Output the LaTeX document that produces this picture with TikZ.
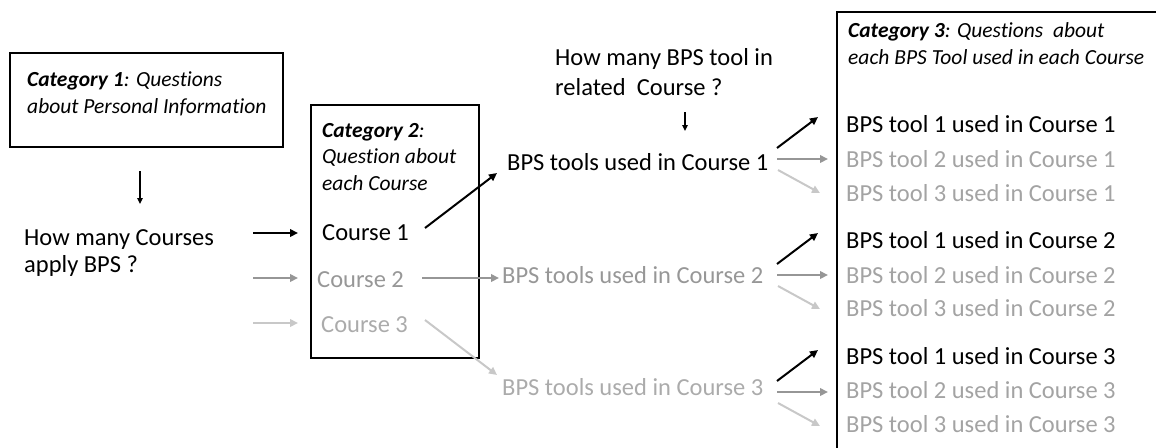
\documentclass[tikz,border=0pt]{standalone}
\usepackage{fontspec}
\setmainfont{Carlito}[Ligatures=NoCommon]
\usetikzlibrary{arrows.meta}
\definecolor{midgray}{HTML}{969696}
\definecolor{midtext}{HTML}{979797}
\definecolor{tooltext}{HTML}{A3A3A3}
\definecolor{lightgray}{HTML}{C8C8C8}
\definecolor{lighttext}{HTML}{ABABAB}
\tikzset{
  x=1pt, y=-1pt,
  big/.style={inner sep=0pt, anchor=base west, font=\fontsize{24.5}{27}\selectfont},
  cat/.style={inner sep=0pt, anchor=base west, align=left, font=\fontsize{21.5}{26.5}\selectfont\itshape},
  frame/.style={draw=black, line width=1.2pt},
  link/.style={line width=2pt, -{Triangle[length=8pt,width=7.5pt]}},
  thin link/.style={line width=1.4pt, -{Triangle[length=6pt,width=5.5pt]}},
}
\begin{document}
\begin{tikzpicture}
\useasboundingbox (0,0) rectangle (1156,447);

% frames
\draw[frame] (10,53) rectangle (283,147);
\draw[frame] (311,105) rectangle (479,358);
\draw[frame] (1160,12) -- (837,12) -- (837,450);

% category headings (anchored at the baseline of their last line)
\node[cat] (cat1) at (27,113) {\textbf{Category 1}: Questions\\about Personal Information};
\node[cat] (cat2) at (322,190) {\textbf{Category 2}:\\Question about\\each Course};
\node[cat] (cat3) at (848,64) {\textbf{Category 3}: Questions\ \ about\\each BPS Tool used in each Course};

% questions
\node[big, align=left] (q1) at (24,272) {How many Courses\\apply BPS ?};
\node[big, align=left, font=\fontsize{24.5}{30}\selectfont] (q2) at (555,95) {How many BPS tool in\\related\ \ Course ?};

% courses
\node[big] (c1) at (322,240) {Course 1};
\node[big, text=midtext] (c2) at (317,287) {Course 2};
\node[big, text=lighttext] (c3) at (321,332) {Course 3};

% tools per course
\node[big] (u1) at (507,170) {BPS tools used in Course 1};
\node[big, text=midtext] (u2) at (502,283) {BPS tools used in Course 2};
\node[big, text=lighttext] (u3) at (502,395) {BPS tools used in Course 3};

% individual tools
\node[big] (t11) at (846,132) {BPS tool 1 used in Course 1};
\node[big, text=tooltext] (t21) at (846,167) {BPS tool 2 used in Course 1};
\node[big, text=tooltext] (t31) at (846,201) {BPS tool 3 used in Course 1};
\node[big] (t12) at (846,248) {BPS tool 1 used in Course 2};
\node[big, text=tooltext] (t22) at (846,283) {BPS tool 2 used in Course 2};
\node[big, text=tooltext] (t32) at (846,316) {BPS tool 3 used in Course 2};
\node[big] (t13) at (846,364) {BPS tool 1 used in Course 3};
\node[big, text=tooltext] (t23) at (846,398) {BPS tool 2 used in Course 3};
\node[big, text=tooltext] (t33) at (846,432) {BPS tool 3 used in Course 3};

% small down arrows
\coordinate (d1s) at (140,171);
\coordinate (d1e) at (140,204);
\draw[thin link] (d1s) -- (d1e);
\coordinate (d2s) at (685,112);
\coordinate (d2e) at (685,131);
\draw[thin link] (d2s) -- (d2e);

% from the course count to the courses
\coordinate (k1s) at (253,233);
\coordinate (k1e) at (298,233);
\coordinate (k2s) at (253,278);
\coordinate (k2e) at (298,278);
\coordinate (k3s) at (253,323);
\coordinate (k3e) at (298,323);
\draw[link] (k1s) -- (k1e);
\draw[link, midgray] (k2s) -- (k2e);
\draw[link, lightgray] (k3s) -- (k3e);

% from each course to its tools
\coordinate (e1s) at (425,228);
\coordinate (e1e) at (497,173);
\coordinate (e2s) at (422,278);
\coordinate (e2e) at (499,278);
\coordinate (e3s) at (425,320);
\coordinate (e3e) at (497,375);
\draw[link] (e1s) -- (e1e);
\draw[link, midgray] (e2s) -- (e2e);
\draw[link, lightgray] (e3s) -- (e3e);

% fans towards the single tools
\foreach \g/\dy in {1/0, 2/116, 3/233}{
  \coordinate (f\g as) at (777,148+\dy);
  \coordinate (f\g ae) at (818,117+\dy);
  \coordinate (f\g bs) at (777,159+\dy);
  \coordinate (f\g be) at (828,159+\dy);
  \coordinate (f\g cs) at (778,170+\dy);
  \coordinate (f\g ce) at (820,193+\dy);
  \draw[link] (f\g as) -- (f\g ae);
  \draw[link, midgray] (f\g bs) -- (f\g be);
  \draw[link, lightgray] (f\g cs) -- (f\g ce);
}
\end{tikzpicture}
\end{document}
